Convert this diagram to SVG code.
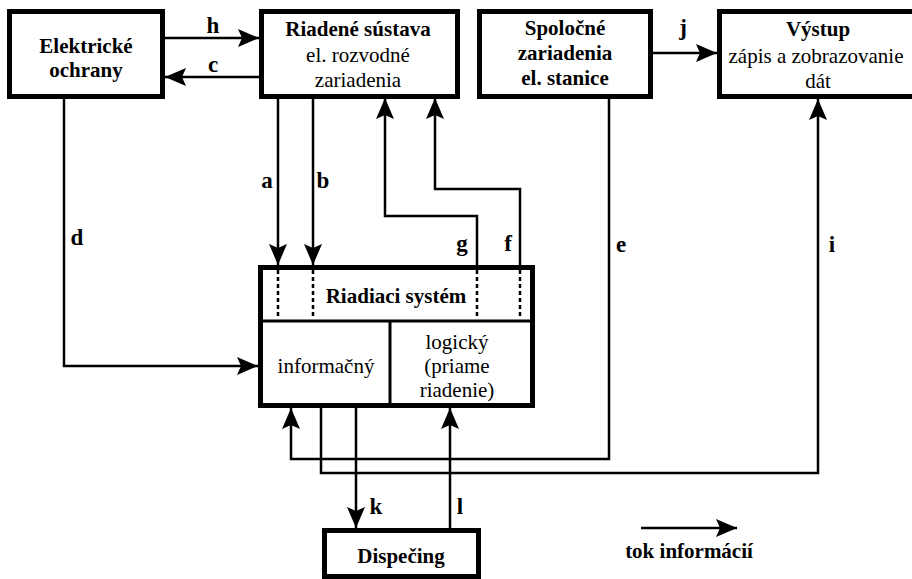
<svg xmlns="http://www.w3.org/2000/svg" width="912" height="579" viewBox="0 0 912 579" font-family="'Liberation Serif', 'DejaVu Serif', 'Times New Roman', serif">
  <style>
    .box { fill: #ffffff; stroke: #000000; stroke-width: 5; }
    .div { fill: none; stroke: #000000; stroke-width: 3; }
    .dash { fill: none; stroke: #000000; stroke-width: 2.5; stroke-dasharray: 4 3; }
    .wire { fill: none; stroke: #000000; stroke-width: 2.5; }
    .arr { marker-end: url(#head); }
    text { font-size: 21px; fill: #000000; text-anchor: middle; }
    .b { font-weight: bold; }
    .lbl { font-weight: bold; font-size: 23px; }
  </style>
  <defs>
    <marker id="head" markerUnits="userSpaceOnUse" markerWidth="22" markerHeight="18" refX="21" refY="9" orient="auto">
      <path d="M0,0 L21,9 L0,18 L4,9 z" fill="#000000"/>
    </marker>
  </defs>

  <rect width="912" height="579" fill="#ffffff"/>

  <!-- connectors -->
  <g id="connectors">
    <path class="wire arr" d="M165,38 H259"/>
    <path class="wire arr" d="M259,77 H165"/>
    <path class="wire arr" d="M653,53 H717"/>
    <path class="wire arr" d="M278,98 V265"/>
    <path class="wire arr" d="M313,98 V265"/>
    <path class="wire arr" d="M477,266 V216 H385 V98"/>
    <path class="wire arr" d="M520,266 V189 H435 V98"/>
    <path class="wire arr" d="M64,99 V366 H258"/>
    <path class="wire arr" d="M609,99 V459 H291 V408"/>
    <path class="wire arr" d="M321,408 V473 H818 V99"/>
    <path class="wire arr" d="M356,408 V528"/>
    <path class="wire arr" d="M450,528 V408"/>
    <path class="wire arr" d="M641,528 H737"/>

    <text class="lbl" x="213" y="33">h</text>
    <text class="lbl" x="213" y="72">c</text>
    <text class="lbl" x="683" y="35">j</text>
    <text class="lbl" x="267" y="188">a</text>
    <text class="lbl" x="323" y="188">b</text>
    <text class="lbl" x="462" y="251">g</text>
    <text class="lbl" x="508" y="251">f</text>
    <text class="lbl" x="77" y="245">d</text>
    <text class="lbl" x="621" y="252">e</text>
    <text class="lbl" x="832" y="252">i</text>
    <text class="lbl" x="376" y="514">k</text>
    <text class="lbl" x="460" y="514">l</text>
  </g>

  <!-- nodes -->
  <g id="elektricke-ochrany">
    <rect class="box" x="9.5" y="11.5" width="153" height="85"/>
    <text class="b" x="86" y="53">Elektrické</text>
    <text class="b" x="86" y="77">ochrany</text>
  </g>

  <g id="riadena-sustava">
    <rect class="box" x="261.5" y="11.5" width="196" height="85"/>
    <text class="b" x="358" y="36">Riadené sústava</text>
    <text x="358" y="62">el. rozvodné</text>
    <text x="358" y="87">zariadenia</text>
  </g>

  <g id="spolocne-zariadenia">
    <rect class="box" x="479.5" y="11.5" width="171" height="85"/>
    <text class="b" x="565" y="35">Spoločné</text>
    <text class="b" x="565" y="60">zariadenia</text>
    <text class="b" x="565" y="85">el. stanice</text>
  </g>

  <g id="vystup">
    <rect class="box" x="719.5" y="11.5" width="200" height="85"/>
    <text class="b" x="818" y="36">Výstup</text>
    <text x="816" y="63">zápis a zobrazovanie</text>
    <text x="818" y="88">dát</text>
  </g>

  <g id="riadiaci-system">
    <rect class="box" x="260.5" y="267.5" width="272" height="138"/>
    <path class="div" d="M260.5,321 H532.5 M390,321 V405.5"/>
    <path class="dash" d="M278,270 V319 M313,270 V319 M477,270 V319 M520,270 V319"/>
    <text class="b" x="396" y="303">Riadiaci systém</text>
    <text x="326" y="373">informačný</text>
    <text x="457" y="349">logický</text>
    <text x="457" y="373">(priame</text>
    <text x="457" y="397">riadenie)</text>
  </g>

  <g id="dispecing">
    <rect class="box" x="324.5" y="530.5" width="154" height="46"/>
    <text class="b" x="401" y="563">Dispečing</text>
  </g>

  <g id="legenda">
    <text class="b" x="689" y="558">tok informácií</text>
  </g>
</svg>
